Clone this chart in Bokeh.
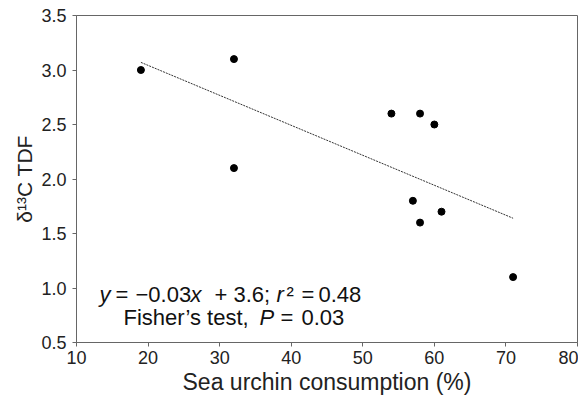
from bokeh.plotting import figure
from bokeh.models import ColumnDataSource, FixedTicker, Range1d
from bokeh.core.properties import value
from bokeh.embed import file_html
from bokeh.resources import INLINE

# Data
consumption = [19, 32, 32, 54, 58, 60, 57, 58, 61, 71]
tdf = [3.0, 3.1, 2.1, 2.6, 2.6, 2.5, 1.8, 1.6, 1.7, 1.1]
fit_x = [19, 71]
fit_y = [3.07, 1.64]
x_ticks = [10, 20, 30, 40, 50, 60, 70, 80]
y_ticks = [0.5, 1.0, 1.5, 2.0, 2.5, 3.0, 3.5]

# Annotation text pieces (line 1 and line 2)
ann_normal = ["=", "\u22120.03", "+", "3.6;", "\u00b2", "=", "0.48",
              "Fisher\u2019s test,", "=", "0.03"]
ann_normal_line = [1, 1, 1, 1, 1, 1, 1, 2, 2, 2]
ann_normal_off = [39, 59, 138, 157, 210, 225, 242, 47, 204, 225]
ann_italic = ["y", "x", "r", "P"]
ann_italic_line = [1, 1, 1, 2]
ann_italic_off = [23, 114, 200, 183]
line_y = {1: 0.94, 2: 0.73}

FONT = "Liberation Sans"

p = figure(width=578, height=399, output_backend="svg", toolbar_location=None,
           x_range=Range1d(10, 80), y_range=Range1d(0.5, 3.5),
           min_border_left=76, min_border_right=1, min_border_top=15,
           min_border_bottom=57)

p.xgrid.visible = False
p.ygrid.visible = False
p.outline_line_color = "#666666"
p.outline_line_width = 1
p.background_fill_color = "white"
p.border_fill_color = "white"

for ax in (p.xaxis[0], p.yaxis[0]):
    ax.axis_line_color = "#666666"
    ax.major_tick_line_color = "#666666"
    ax.major_tick_out = 4
    ax.major_tick_in = 0
    ax.minor_tick_line_color = None
    ax.major_label_text_font = FONT
    ax.major_label_text_font_size = "18px"
    ax.major_label_text_color = "#222222"
    ax.axis_label_text_font = FONT
    ax.axis_label_text_font_style = "normal"
    ax.axis_label_text_color = "#222222"

p.xaxis.ticker = FixedTicker(ticks=x_ticks)
p.yaxis.ticker = FixedTicker(ticks=y_ticks)
p.yaxis.major_label_overrides = {t: f"{t:.1f}" for t in y_ticks}
p.xaxis.axis_label = "Sea urchin consumption (%)"
p.yaxis.axis_label = "\u03b4\u00b9\u00b3C TDF"
p.xaxis.axis_label_text_font_size = "23px"
p.yaxis.axis_label_text_font_size = "21px"
p.xaxis.major_label_standoff = 4
p.yaxis.major_label_standoff = 6
p.xaxis.axis_label_standoff = 2
p.yaxis.axis_label_standoff = 2

p.line(fit_x, fit_y, line_color="#333333", line_width=1, line_dash="2 1")
p.scatter(consumption, tdf, size=7, fill_color="black", line_color="black")

src_n = ColumnDataSource(dict(
    x=[10] * len(ann_normal),
    y=[line_y[l] for l in ann_normal_line],
    text=ann_normal, xo=ann_normal_off))
src_i = ColumnDataSource(dict(
    x=[10] * len(ann_italic),
    y=[line_y[l] for l in ann_italic_line],
    text=ann_italic, xo=ann_italic_off))

p.text(x="x", y="y", text="text", x_offset="xo", source=src_n,
       text_font=value(FONT), text_font_size="22px", text_color="#111111",
       text_align="left", text_baseline="alphabetic")
p.text(x="x", y="y", text="text", x_offset="xo", source=src_i,
       text_font=value(FONT), text_font_size="22px", text_font_style="italic",
       text_color="#111111", text_align="left", text_baseline="alphabetic")

open("out.html", "w").write(file_html(p, INLINE))
